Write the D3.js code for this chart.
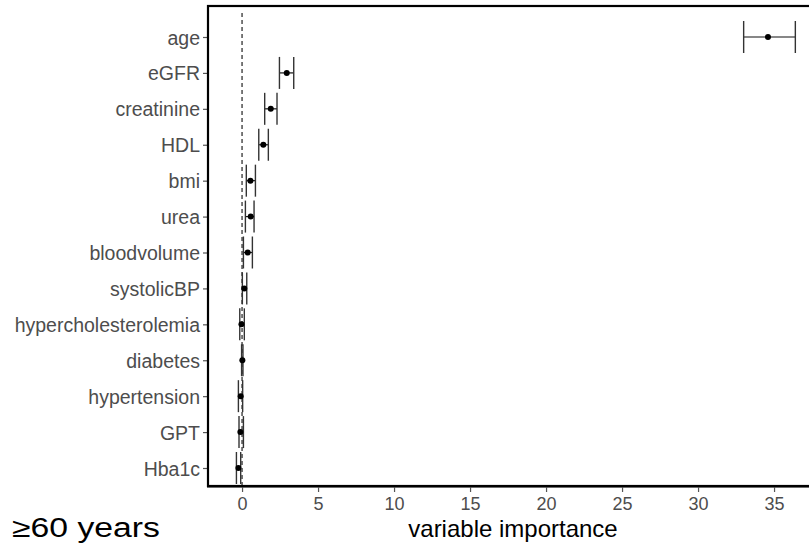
<!DOCTYPE html>
<html>
<head>
<meta charset="utf-8">
<style>
/*	page and text styles	*/
body {
  margin: 0;
  background: #fff;
}

.ylab {
  font: 19.5px "Liberation Sans", Arial, sans-serif;
  fill: #4d4d4d;
}

.xlab {
  font: 18px "Liberation Sans Narrow", "Liberation Sans", Arial, sans-serif;
  font-stretch: condensed;
  fill: #4d4d4d;
}

.tick line {
  stroke: #555;
  stroke-width: 1.2px;
}
</style>
</head>
<body>
<svg id="chart" width="809" height="548"></svg>

<script src="https://cdn.jsdelivr.net/npm/d3@7"></script>
<script>

//	variables, top to bottom
var variables = ["age", "eGFR", "creatinine", "HDL", "bmi", "urea", "bloodvolume",
  "systolicBP", "hypercholesterolemia", "diabetes", "hypertension", "GPT", "Hba1c"];

//	mean importance and interval ends
var importance = [34.6, 2.94, 1.89, 1.40, 0.55, 0.57, 0.37, 0.15, -0.04, 0.02, -0.09, -0.11, -0.24];
var lower      = [33.0, 2.46, 1.49, 1.10, 0.28, 0.22, 0.09, 0.02, -0.15, -0.03, -0.24, -0.20, -0.37];
var upper      = [36.4, 3.40, 2.30, 1.73, 0.88, 0.79, 0.68, 0.31, 0.15, 0.06, 0.04, 0.09, -0.09];

var xTicks = [0, 5, 10, 15, 20, 25, 30, 35];

var rows = variables.map(function(v, i) {
  return {name: v, mean: importance[i], lo: lower[i], hi: upper[i]};
});

var svg = d3.select("#chart");

//	panel box
var panel = {left: 208, top: 6, right: 823, bottom: 486};

var x = d3.scaleLinear()
    .domain([-2.24, 38.22])
    .range([panel.left, panel.right]);

var y = d3.scalePoint()
    .domain(variables)
    .range([37, 468]);

//	dashed reference line at zero
svg.append("line")
    .attr("x1", x(0)).attr("x2", x(0))
    .attr("y1", 13).attr("y2", panel.bottom)
    .attr("stroke", "#333")
    .attr("stroke-width", 1.3)
    .attr("stroke-dasharray", "4,3");

//	error bars
var bars = svg.append("g").selectAll("g")
    .data(rows)
  .enter().append("g");

bars.append("line")
    .attr("x1", function(d) { return x(d.lo); })
    .attr("x2", function(d) { return x(d.hi); })
    .attr("y1", function(d) { return y(d.name); })
    .attr("y2", function(d) { return y(d.name); })
    .attr("stroke", "#111")
    .attr("stroke-width", 1.2);

bars.selectAll(".cap")
    .data(function(d) { return [{v: d.lo, n: d.name}, {v: d.hi, n: d.name}]; })
  .enter().append("line")
    .attr("class", "cap")
    .attr("x1", function(d) { return x(d.v); })
    .attr("x2", function(d) { return x(d.v); })
    .attr("y1", function(d) { return y(d.n) - 16; })
    .attr("y2", function(d) { return y(d.n) + 16; })
    .attr("stroke", "#333")
    .attr("stroke-width", 1.4);

bars.append("circle")
    .attr("cx", function(d) { return x(d.mean); })
    .attr("cy", function(d) { return y(d.name); })
    .attr("r", 3)
    .attr("fill", "#000");

//	axes
var yAxis = svg.append("g")
    .attr("transform", "translate(" + panel.left + ",0)")
    .call(d3.axisLeft(y).tickSize(5).tickPadding(3));
yAxis.select(".domain").remove();
yAxis.selectAll("text").attr("class", "ylab").attr("dy", "0.36em");

var xAxis = svg.append("g")
    .attr("transform", "translate(0," + (panel.bottom + 1) + ")")
    .call(d3.axisBottom(x).tickValues(xTicks).tickSize(5).tickPadding(4));
xAxis.select(".domain")
    .attr("d", "M" + (panel.left - 1) + ",0H809")
    .attr("stroke", "#777")
    .attr("stroke-width", 2);
xAxis.selectAll("text").attr("class", "xlab").attr("dy", "0.8em");

//	panel border
svg.append("rect")
    .attr("x", panel.left)
    .attr("y", panel.top)
    .attr("width", panel.right - panel.left)
    .attr("height", panel.bottom - panel.top)
    .attr("fill", "none")
    .attr("stroke", "#000")
    .attr("stroke-width", 2.2);

//	titles
svg.append("text")
    .attr("x", 513)
    .attr("y", 537)
    .attr("text-anchor", "middle")
    .style("font", "24px 'Liberation Sans', Arial, sans-serif")
    .style("fill", "#000")
    .text("variable importance");

svg.append("text")
    .attr("transform", "translate(12,537) scale(1.25,1)")
    .style("font", "27px 'Liberation Sans', Arial, sans-serif")
    .style("fill", "#000")
    .text("\u226560 years");

</script>
</body>
</html>
